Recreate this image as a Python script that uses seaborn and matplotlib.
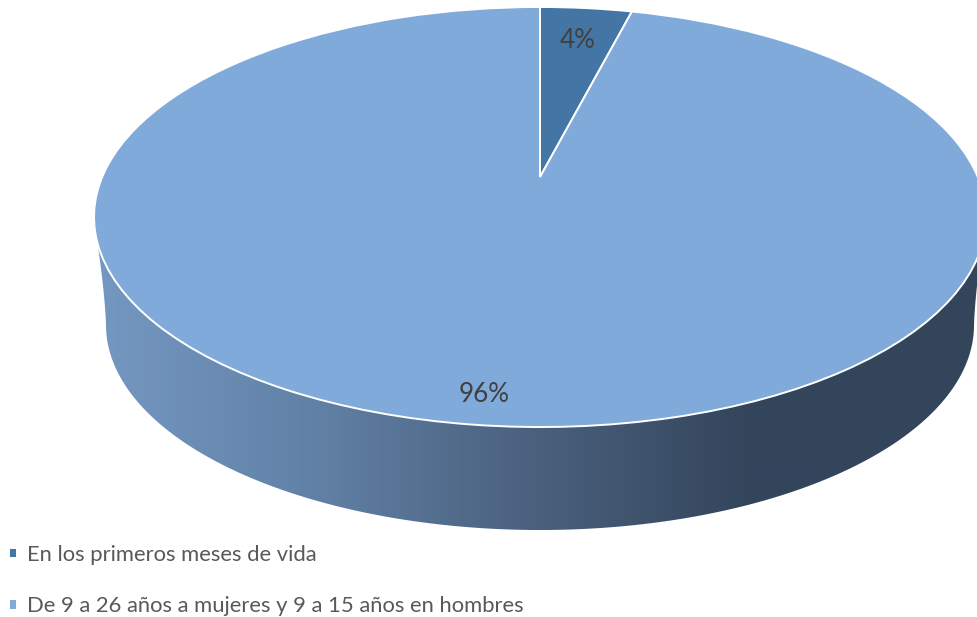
import numpy as np
import matplotlib
matplotlib.use("Agg")
import matplotlib.pyplot as plt
from matplotlib.path import Path
from matplotlib.patches import PathPatch
from matplotlib.colors import to_rgb
from matplotlib.transforms import Transform
import seaborn as sns

# Chart data
categories = ["En los primeros meses de vida",
              "De 9 a 26 años a mujeres y 9 a 15 años en hombres"]
shares = [4, 96]
slice_colors = ["#4375A5", "#80AADA"]

sns.set_theme(style="white")
plt.rcParams["font.family"] = ["Lato", "DejaVu Sans"]

WIDTH, HEIGHT = 977, 617
fig = plt.figure(figsize=(WIDTH / 100, HEIGHT / 100), dpi=100)
ax = fig.add_axes([0, 0, 1, 1])

# Perspective projection of the unit pie onto the tilted disc (pixel coordinates)
APEX_X, APEX_Y = 540.0, 177.0
SCALE_X, SCALE_Y, TILT = 437.8, 202.4, 0.1905


def project(xy):
    xy = np.asarray(xy, dtype=float)
    den = 1 + TILT * xy[:, 1]
    return np.column_stack([APEX_X + SCALE_X * xy[:, 0] / den,
                            APEX_Y - SCALE_Y * xy[:, 1] / den])


class TiltTransform(Transform):
    input_dims = output_dims = 2
    is_affine = False
    has_inverse = False

    def transform_non_affine(self, values):
        return project(values)

    def transform_path_non_affine(self, path):
        return Path(project(path.vertices), path.codes)


def shoulder(start, control, end, n=30):
    """Quadratic curve easing the wall's side edge into the bottom ellipse."""
    t = np.linspace(0, 1, n)[:, np.newaxis]
    return ((1 - t) ** 2 * np.array(start) + 2 * t * (1 - t) * np.array(control)
            + t ** 2 * np.array(end))


wedges, _ = ax.pie(shares, colors=slice_colors, startangle=90, counterclock=False,
                   wedgeprops={"edgecolor": "white", "linewidth": 1.4, "zorder": 3})
tilt = TiltTransform()
for wedge in wedges:
    wedge.set_transform(tilt + ax.transData)

# Side wall of the disc: front rim of the top face joined to the bottom ellipse
angles = np.radians(np.linspace(198, 342, 300))
top_rim = project(np.column_stack([np.cos(angles), np.sin(angles)]))
low = np.radians(np.linspace(360, 180, 300))
bottom_rim = np.column_stack([540 + 434 * np.cos(low), 325 - 205 * np.sin(low)])
right_edge = shoulder(top_rim[-1], (975, 295), bottom_rim[0])
left_edge = shoulder(bottom_rim[-1], (105, 295), top_rim[0])
wall_path = Path(np.vstack([top_rim, right_edge, bottom_rim, left_edge]), closed=True)

# Horizontal shading of the wall, light on the left and dark from about x=750
stop_x = [94, 300, 520, 750, 980]
stop_colors = ["#7598C2", "#6283A8", "#4C6280", "#33455B", "#33455B"]
xs = np.arange(94, 990)
shade = np.column_stack([np.interp(xs, stop_x, [to_rgb(c)[i] for c in stop_colors])
                         for i in range(3)])
image = ax.imshow(shade[np.newaxis, :, :], extent=(94, 990, 540, 230),
                  aspect="auto", zorder=1, interpolation="bilinear")
clip = PathPatch(wall_path, transform=ax.transData, facecolor="none", edgecolor="none")
ax.add_patch(clip)
image.set_clip_path(clip)

# Percentage labels
label_positions = [(578, 40), (484, 394)]
for value, (px, py) in zip(shares, label_positions):
    ax.text(px, py, f"{value}%", ha="center", va="center",
            fontsize=18.7, color="#404040", zorder=4)

ax.set_aspect("auto")
ax.set_xlim(0, WIDTH)
ax.set_ylim(HEIGHT, 0)
ax.axis("off")

# Legend down the lower left corner
ax.legend(wedges, categories, loc="lower left", bbox_to_anchor=(9 / WIDTH, 1 / HEIGHT),
          frameon=False, fontsize=15.85, labelcolor="#595959", handlelength=0.38,
          handleheight=0.38, handletextpad=0.42, labelspacing=1.41, borderaxespad=0,
          borderpad=0)

fig.savefig("out.png", dpi=100, facecolor="white")
